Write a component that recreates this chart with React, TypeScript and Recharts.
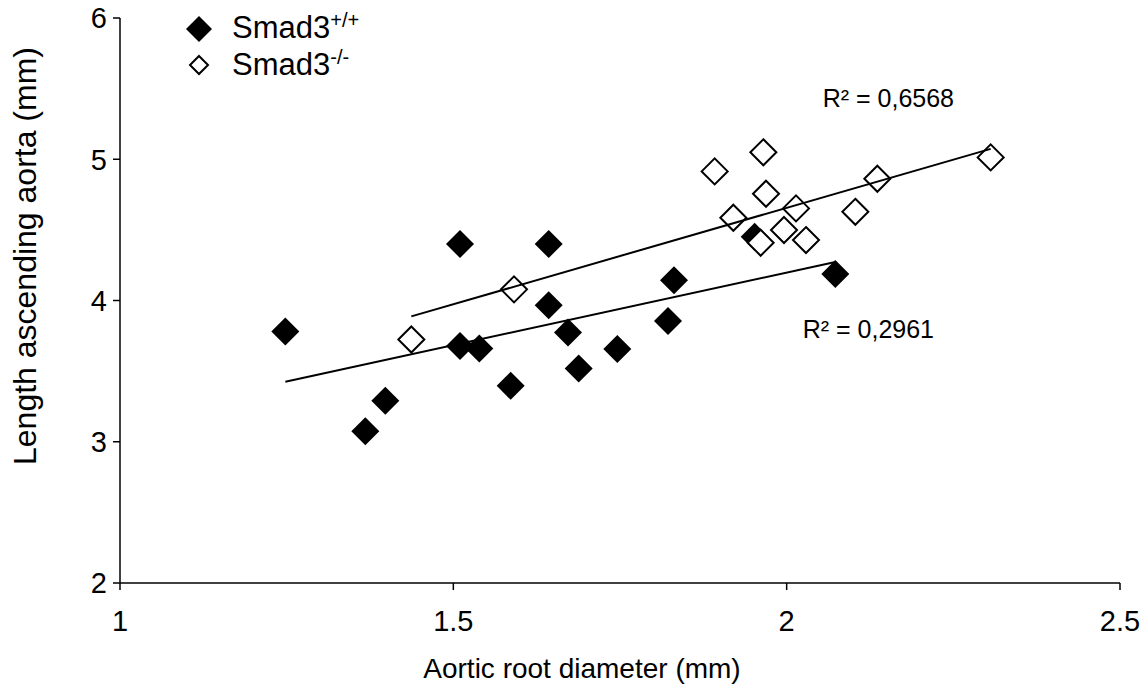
import React from 'react';
import {
  ScatterChart,
  Scatter,
  XAxis,
  YAxis,
  Legend,
  Label,
  ReferenceDot,
} from 'recharts';

// Smad3+/+ (filled diamonds)
const wtDiameter = [1.248, 1.368, 1.398, 1.51, 1.51, 1.539, 1.586, 1.643, 1.643, 1.672, 1.688, 1.746, 1.822, 1.831, 1.952, 2.073];
const wtLength = [3.78, 3.075, 3.29, 4.4, 3.677, 3.661, 3.396, 4.4, 3.967, 3.774, 3.519, 3.656, 3.854, 4.144, 4.451, 4.187];

// Smad3-/- (open diamonds)
const koDiameter = [1.437, 1.591, 1.892, 1.92, 1.961, 1.965, 1.969, 1.996, 2.014, 2.029, 2.103, 2.136, 2.306];
const koLength = [3.724, 4.079, 4.914, 4.586, 4.409, 5.049, 4.756, 4.499, 4.652, 4.428, 4.628, 4.862, 5.013];

const xTicks = [1, 1.5, 2, 2.5];
const yTicks = [2, 3, 4, 5, 6];

const wtR2 = 'R² = 0,2961';
const koR2 = 'R² = 0,6568';

const FONT = '"Liberation Sans", Arial, sans-serif';

const toPoints = (xs: number[], ys: number[]) => xs.map((x, i) => ({ x, y: ys[i] }));

// least squares trendline, drawn from min to max x like Excel does
function trend(xs: number[], ys: number[]) {
  const n = xs.length;
  const mx = xs.reduce((a, b) => a + b, 0) / n;
  const my = ys.reduce((a, b) => a + b, 0) / n;
  let sxy = 0;
  let sxx = 0;
  xs.forEach((x, i) => {
    sxy += (x - mx) * (ys[i] - my);
    sxx += (x - mx) * (x - mx);
  });
  const slope = sxy / sxx;
  const icpt = my - slope * mx;
  const lo = Math.min(...xs);
  const hi = Math.max(...xs);
  return [
    { x: lo, y: icpt + slope * lo },
    { x: hi, y: icpt + slope * hi },
  ];
}

const wtData = toPoints(wtDiameter, wtLength);
const koData = toPoints(koDiameter, koLength);
const wtFit = trend(wtDiameter, wtLength);
const koFit = trend(koDiameter, koLength);

const FilledDiamond = (props: any) => {
  const { cx, cy } = props;
  const r = 14;
  return <path d={`M${cx},${cy - r}L${cx + r},${cy}L${cx},${cy + r}L${cx - r},${cy}Z`} fill="#000" />;
};

const OpenDiamond = (props: any) => {
  const { cx, cy } = props;
  const r = 13;
  return (
    <path
      d={`M${cx},${cy - r}L${cx + r},${cy}L${cx},${cy + r}L${cx - r},${cy}Z`}
      fill="#fff"
      stroke="#000"
      strokeWidth={2}
    />
  );
};

const NoDot = () => <g />;

const LegendBox = () => (
  <svg width={220} height={90} style={{ display: 'block' }}>
    <path d="M19,16L32,29L19,42L6,29Z" fill="#000" />
    <text x={52} y={38} fontFamily={FONT} fontSize={31} fill="#000">
      Smad3
      <tspan fontSize={20} dy={-11}>+/+</tspan>
    </text>
    <path d="M19,56L28,65L19,74L10,65Z" fill="#fff" stroke="#000" strokeWidth={2} />
    <text x={52} y={75} fontFamily={FONT} fontSize={31} fill="#000">
      Smad3
      <tspan fontSize={20} dy={-11}>-/-</tspan>
    </text>
  </svg>
);

const r2Label = (text: string) => (props: any) => {
  const { viewBox } = props;
  return (
    <text x={viewBox.x} y={viewBox.y} fontFamily={FONT} fontSize={25} fill="#000" textAnchor="start">
      {text}
    </text>
  );
};

export default function App() {
  const tick = { fill: '#000', fontSize: 29, fontFamily: FONT };
  return (
    <div style={{ position: 'absolute', left: 0, top: 0, background: '#fff' }}>
      <ScatterChart width={1144} height={693} margin={{ top: 18, right: 24, bottom: 0, left: 0 }}>
        <XAxis
          type="number"
          dataKey="x"
          domain={[1, 2.5]}
          ticks={xTicks}
          tick={tick}
          tickSize={7}
          tickMargin={20}
          height={110}
          axisLine={{ stroke: '#000', strokeWidth: 1.5 }}
          tickLine={{ stroke: '#000', strokeWidth: 1.5 }}
          allowDataOverflow
        >
          <Label
            content={() => (
              <text x={582} y={678} textAnchor="middle" fontFamily={FONT} fontSize={28} fill="#000">
                Aortic root diameter (mm)
              </text>
            )}
          />
        </XAxis>
        <YAxis
          type="number"
          dataKey="y"
          domain={[2, 6]}
          ticks={yTicks}
          tick={tick}
          tickSize={7}
          tickMargin={6}
          width={120}
          axisLine={{ stroke: '#000', strokeWidth: 1.5 }}
          tickLine={{ stroke: '#000', strokeWidth: 1.5 }}
          allowDataOverflow
        >
          <Label
            content={() => (
              <text
                x={0}
                y={0}
                transform="translate(36,256) rotate(-90)"
                textAnchor="middle"
                fontFamily={FONT}
                fontSize={32}
                fill="#000"
              >
                Length ascending aorta (mm)
              </text>
            )}
          />
        </YAxis>
        <Legend
          layout="vertical"
          align="center"
          verticalAlign="middle"
          content={() => <LegendBox />}
          wrapperStyle={{ left: 180, top: 0, width: 220, height: 90 }}
        />
        <Scatter name="Smad3+/+" data={wtData} shape={<FilledDiamond />} isAnimationActive={false} />
        <Scatter name="Smad3-/-" data={koData} shape={<OpenDiamond />} isAnimationActive={false} />
        <Scatter
          data={wtFit}
          line={{ stroke: '#000', strokeWidth: 2 }}
          shape={<NoDot />}
          legendType="none"
          isAnimationActive={false}
        />
        <Scatter
          data={koFit}
          line={{ stroke: '#000', strokeWidth: 2 }}
          shape={<NoDot />}
          legendType="none"
          isAnimationActive={false}
        />
        <ReferenceDot x={2.054} y={5.37} r={0} fill="none" stroke="none" label={r2Label(koR2)} ifOverflow="visible" />
        <ReferenceDot x={2.024} y={3.734} r={0} fill="none" stroke="none" label={r2Label(wtR2)} ifOverflow="visible" />
      </ScatterChart>
    </div>
  );
}
